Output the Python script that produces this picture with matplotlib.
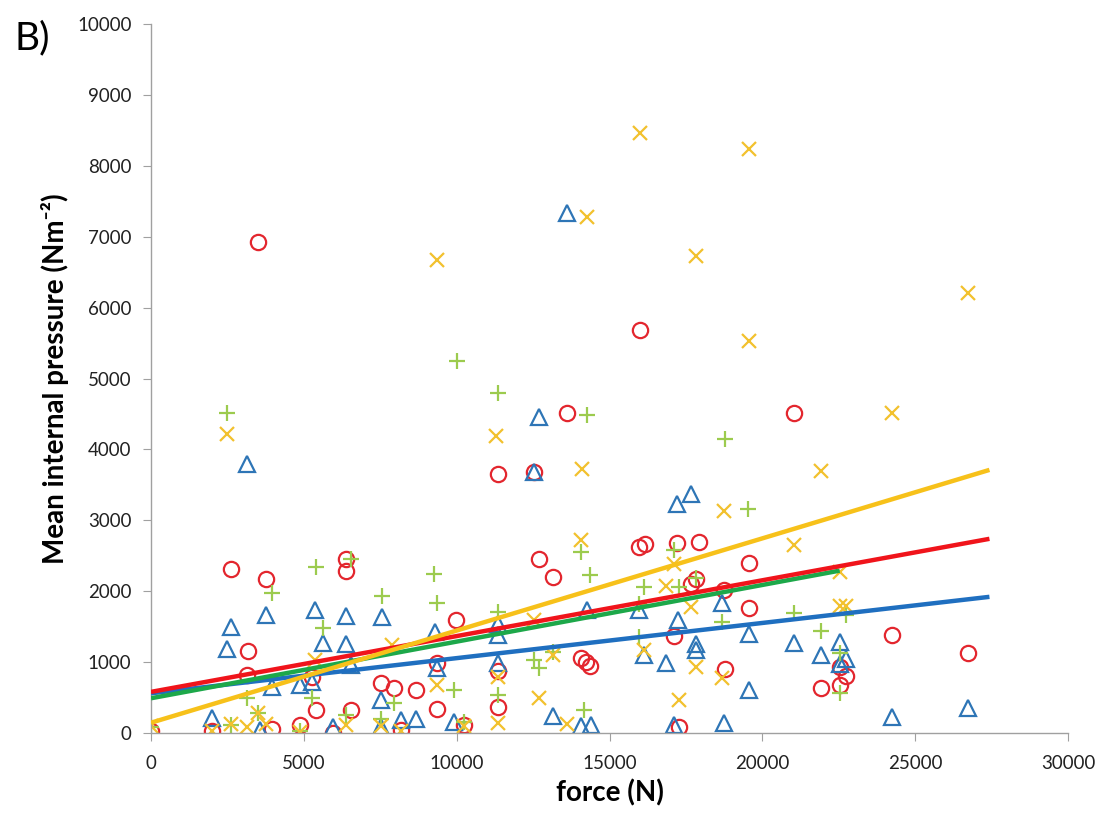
import matplotlib
matplotlib.use("Agg")
import matplotlib.pyplot as plt
import numpy as np

# ---- data ----
red_x = [0, 2000, 2610, 3770, 3180, 3140, 3950, 4880, 5280, 5390, 6370, 6370, 6540, 5960,
         7520, 7960, 8670, 8170, 9980, 9360, 9360, 10250, 11340, 11340, 12680, 13160, 14070,
         14220, 14360, 15970, 16170, 17200, 17920, 17670, 17830, 17120, 17270, 18760, 18790,
         19580, 19580, 22530, 22740, 21920, 22530, 24250, 26730, 3500, 11340, 12540, 13610,
         16000, 21050]
red_y = [30, 30, 2320, 2170, 1150, 820, 55, 110, 790, 320, 2460, 2290, 320, 0,
         700, 630, 600, 40, 1590, 990, 340, 110, 880, 370, 2450, 2200, 1060,
         1000, 950, 2620, 2670, 2680, 2690, 2100, 2170, 1370, 90, 2010, 900,
         2400, 1770, 930, 800, 640, 680, 1380, 1130, 6930, 3650, 3680, 4520,
         5690, 4510]

blue_x = [2000, 2610, 2490, 3770, 3950, 3580, 4880, 5280, 5370, 5630, 6370, 6370, 6540, 5960,
          7550, 7520, 7520, 8670, 8170, 9290, 9360, 9920, 11340, 11340, 11340, 13160, 14280,
          14070, 14400, 15970, 16140, 16850, 17200, 17670, 17230, 17830, 17830, 17120, 18680,
          18760, 19580, 19580, 21020, 21920, 22530, 22740, 22530, 24250, 26730, 3150, 12680,
          12540, 13600]
blue_y = [210, 1500, 1180, 1660, 650, 40, 680, 720, 1740, 1270, 1650, 1250, 960, 90,
          1640, 460, 90, 200, 180, 1430, 920, 150, 1540, 1380, 990, 240, 1730,
          100, 110, 1730, 1100, 990, 3230, 3370, 1600, 1260, 1170, 110, 1830,
          135, 1400, 605, 1270, 1100, 1290, 1040, 980, 220, 350, 3800, 4450,
          3680, 7330]

green_x = [0, 2610, 3950, 3140, 3500, 4880, 5390, 5630, 5280, 6540, 6370, 7550, 7960, 7520,
           9270, 9360, 9920, 10000, 10250, 11340, 11340, 11360, 12540, 12680, 13160, 14070,
           14360, 14150, 14260, 15970, 16140, 15970, 17120, 17270, 17830, 18680, 18780, 19520,
           21020, 21920, 22740, 22530, 22530, 2500]
green_y = [80, 110, 1970, 490, 280, 30, 2340, 1480, 500, 2460, 250, 1930, 430, 200,
           2240, 1830, 600, 5240, 150, 1710, 535, 4800, 1030, 910, 1140, 2550,
           2230, 330, 4480, 1820, 2060, 1360, 2580, 2060, 2180, 1570, 4150, 3160,
           1690, 1440, 1660, 1130, 560, 4520]

yellow_x = [0, 2000, 2610, 3140, 3500, 3770, 4880, 5370, 7890, 6370, 7520, 8170, 9350, 9350,
            10250, 11290, 11340, 11340, 12540, 12680, 13160, 13610, 14070, 14100, 14260, 16000,
            16850, 17120, 17670, 17830, 17270, 16140, 17830, 18760, 18680, 19550, 19560, 21020,
            21920, 22530, 22530, 22740, 24250, 26730, 2500]
yellow_y = [100, 30, 130, 80, 280, 120, 20, 1030, 1240, 110, 100, 30, 680, 6670,
            100, 4190, 790, 135, 1600, 490, 1100, 120, 2720, 3730, 7280, 8460,
            2070, 2390, 1780, 930, 460, 1170, 6730, 3130, 780, 8230, 5530, 2650,
            3700, 2270, 1790, 1790, 4520, 6200, 4220]

# linear trend lines: intercept, slope, x extent
trend_names = ["blue", "green", "red", "yellow"]
trend_intercept = [560, 490, 580, 145]
trend_slope = [0.0496, 0.0799, 0.0787, 0.1300]
trend_xmax = [27430, 22530, 27430, 27430]

x_ticks = [0, 5000, 10000, 15000, 20000, 25000, 30000]
y_ticks = [0, 1000, 2000, 3000, 4000, 5000, 6000, 7000, 8000, 9000, 10000]

# ---- styling ----
plt.rcParams['font.family'] = ['Lato', 'DejaVu Sans']
c_red_m, c_blue_m, c_green_m, c_yel_m = "#E3262E", "#2E75B6", "#9CCB4E", "#F2C12E"
line_cols = {"blue": "#1F6FC0", "green": "#1DA84A", "red": "#F0141B", "yellow": "#F7C11A"}

fig = plt.figure(figsize=(11.01, 8.15), dpi=100)
ax = fig.add_axes([151/1101, 1 - 733/815, (1068 - 151)/1101, (733 - 24)/815])

ax.plot(red_x, red_y, linestyle="none", marker="o", ms=11, mfc="none", mec=c_red_m, mew=1.6)
ax.plot(blue_x, blue_y, linestyle="none", marker="^", ms=12, mfc="none", mec=c_blue_m, mew=1.6)
ax.plot(green_x, green_y, linestyle="none", marker="+", ms=12, mec=c_green_m, mew=1.6)
ax.plot(yellow_x, yellow_y, linestyle="none", marker="x", ms=10, mec=c_yel_m, mew=1.6)

for name, b, m, xm in zip(trend_names, trend_intercept, trend_slope, trend_xmax):
    xs = np.array([0, xm])
    ax.plot(xs, b + m * xs, color=line_cols[name], lw=3.2, solid_capstyle="butt", zorder=5)

ax.set_xlim(0, 30000)
ax.set_ylim(0, 10000)
ax.set_xticks(x_ticks)
ax.set_yticks(y_ticks)
ax.set_xticklabels([str(v) for v in x_ticks])
ax.set_yticklabels([str(v) for v in y_ticks])
for s in ["top", "right"]:
    ax.spines[s].set_visible(False)
for s in ["left", "bottom"]:
    ax.spines[s].set_color("#A0A0A0")
    ax.spines[s].set_linewidth(1.0)
ax.tick_params(axis="both", direction="out", length=6, color="#A0A0A0", labelsize=13.5,
               labelcolor="#222222", pad=8)
ax.tick_params(axis="x", pad=10)

ax.set_xlabel("force (N)", fontsize=20, fontweight="bold", labelpad=5)
ax.set_ylabel("Mean internal pressure (Nm⁻²)", fontsize=20, fontweight="bold", labelpad=6)
fig.text(14/1101, 1 - 38/815, "B)", fontsize=28, va="center", ha="left")

fig.savefig("out.png", dpi=100)
